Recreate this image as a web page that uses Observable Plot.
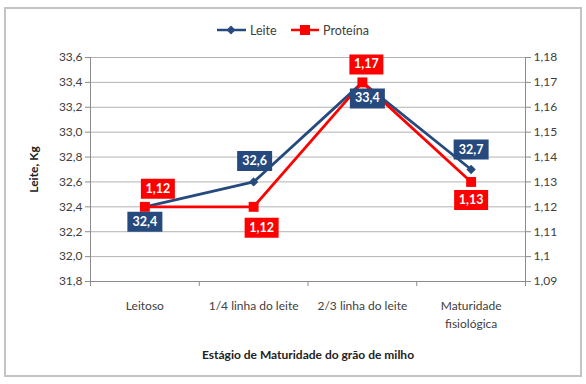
<!DOCTYPE html>
<html><head><meta charset="utf-8">
<script src="https://cdn.jsdelivr.net/npm/d3@7"></script>
<script src="https://cdn.jsdelivr.net/npm/@observablehq/plot@0.6"></script>
<style>
body{margin:0;background:#fff;font-family:Lato,"Open Sans",sans-serif;}
#wrap{position:relative;width:586px;height:384px;overflow:hidden;background:#fff;}
#frame{position:absolute;left:4px;top:7px;width:578px;height:370px;box-sizing:border-box;border:2px solid #c4c4c4;pointer-events:none;}
#legend{position:absolute;top:21px;left:0;width:586px;height:18px;font-size:12.5px;color:#404040;}
#legend .item{position:absolute;top:0;display:flex;align-items:center;height:18px;}
#chart{position:absolute;left:0;top:0;}
g[aria-label="y-axis label"] text, g[aria-label="x-axis label"] text{font-weight:bold;fill:#222;}
</style>
</head><body>
<div id="wrap">
  <div id="chart"></div>
  <div id="legend">
    <div class="item" style="left:217px"><svg width="30" height="18"><line x1="0" y1="9" x2="29" y2="9" stroke="#264A7D" stroke-width="2.5"/><path d="M14,4.5L18.5,9L14,13.5L9.5,9Z" fill="#264A7D"/></svg><span style="margin-left:3px">Leite</span></div>
    <div class="item" style="left:291px"><svg width="29" height="18"><line x1="0" y1="9" x2="28" y2="9" stroke="#FF0000" stroke-width="2.5"/><rect x="9" y="4" width="10" height="10" fill="#FF0000"/></svg><span style="margin-left:3px">Proteína</span></div>
  </div>
  <div id="frame"></div>
</div>
<script>
// ---- data ----
const categories = ["Leitoso", "1/4 linha do leite", "2/3 linha do leite", "Maturidade\nfisiológica"];
const leite = [32.4, 32.6, 33.4, 32.7];
const proteina = [1.12, 1.12, 1.17, 1.13];
const leiteTicks = [31.8, 32.0, 32.2, 32.4, 32.6, 32.8, 33.0, 33.2, 33.4, 33.6];
const proteinaTicks = [1.09, 1.10, 1.11, 1.12, 1.13, 1.14, 1.15, 1.16, 1.17, 1.18];
const seriesNames = ["Leite", "Proteína"];
const xTitle = "Estágio de Maturidade do grão de milho";
const yTitle = "Leite, Kg";

// ---- label placement (pixel offsets from each point) ----
const leiteLabelOffsets = [[0, 15], [1, -21], [5, 16], [0, -20]];
const proteinaLabelOffsets = [[13, -18], [8, 21], [4, -18], [0, 18]];

// ---- helpers ----
const L0 = leiteTicks[0], L1 = leiteTicks[leiteTicks.length - 1];
const P0 = proteinaTicks[0], P1 = proteinaTicks[proteinaTicks.length - 1];
const toLeft = p => L0 + (p - P0) * (L1 - L0) / (P1 - P0);
const fromLeft = v => P0 + (v - L0) * (P1 - P0) / (L1 - L0);
const fmt1 = v => v.toFixed(1).replace(".", ",");
const fmt2 = v => String(+(+v).toFixed(2)).replace(".", ",");

const BLUE = "#264A7D", RED = "#FF0000";
const rows = categories.map((c, i) => ({
  pos: i + 0.5, cat: c,
  leite: leite[i], prot: toLeft(proteina[i]),
  leiteLabel: fmt1(leite[i]), protLabel: fmt2(proteina[i])
}));
const box = (w, h) => ({draw(ctx) { ctx.rect(-w / 2, -h / 2, w, h); }});

const labelMarks = [];
rows.forEach((r, i) => {
  const [dx, dy] = leiteLabelOffsets[i];
  labelMarks.push(Plot.dot([r], {x: "pos", y: "leite", dx, dy, r: 1, symbol: box(35, 20), fill: BLUE, stroke: "none"}));
  labelMarks.push(Plot.text([r], {x: "pos", y: "leite", dx, dy, text: "leiteLabel", fill: "#fff", fontWeight: "bold", fontSize: 12.5}));
});
rows.forEach((r, i) => {
  const [dx, dy] = proteinaLabelOffsets[i];
  labelMarks.push(Plot.dot([r], {x: "pos", y: "prot", dx, dy, r: 1, symbol: box(34, 20), fill: RED, stroke: "none"}));
  labelMarks.push(Plot.text([r], {x: "pos", y: "prot", dx, dy, text: "protLabel", fill: "#fff", fontWeight: "bold", fontSize: 12.5}));
});

const chart = Plot.plot({
  width: 586, height: 384,
  marginLeft: 90, marginRight: 61, marginTop: 57, marginBottom: 103,
  style: {fontFamily: "Lato, 'Open Sans', sans-serif", fontSize: "12px", color: "#404040", background: "transparent"},
  x: {type: "linear", domain: [0, categories.length]},
  y: {domain: [L0, L1]},
  marks: [
    Plot.gridY(leiteTicks.slice(1), {stroke: "#b3b3b3", strokeOpacity: 1}),
    Plot.ruleY([L0], {stroke: "#8c8c8c"}),
    Plot.ruleX([0, categories.length], {stroke: "#8c8c8c"}),
    Plot.axisY({anchor: "left", ticks: leiteTicks, tickSize: 5, tickPadding: 3, tickFormat: fmt1, stroke: "#8c8c8c", label: yTitle, labelArrow: "none", labelAnchor: "center", labelOffset: 61}),
    Plot.axisY({anchor: "right", ticks: proteinaTicks.map(toLeft), tickSize: 5, tickPadding: 3, tickFormat: v => fmt2(fromLeft(v)), stroke: "#8c8c8c", label: null}),
    Plot.axisX({ticks: d3.range(categories.length + 1), tickSize: 5, tickFormat: () => "", stroke: "#8c8c8c", label: null}),
    Plot.axisX({ticks: rows.map(r => r.pos), tickSize: 0, tickPadding: 16, lineHeight: 1.5, tickFormat: d => categories[Math.floor(d)], label: xTitle, labelArrow: "none", labelAnchor: "center", labelOffset: 77}),
    Plot.line(rows, {x: "pos", y: "leite", stroke: BLUE, strokeWidth: 2.75}),
    Plot.line(rows, {x: "pos", y: "prot", stroke: RED, strokeWidth: 2.75}),
    Plot.dot(rows, {x: "pos", y: "leite", symbol: "diamond2", r: 4.2, fill: BLUE, stroke: "none"}),
    Plot.dot(rows, {x: "pos", y: "prot", symbol: "square", r: 5.6, fill: RED, stroke: "none"}),
    ...labelMarks
  ]
});
document.getElementById("chart").appendChild(chart);
</script>
</body></html>
